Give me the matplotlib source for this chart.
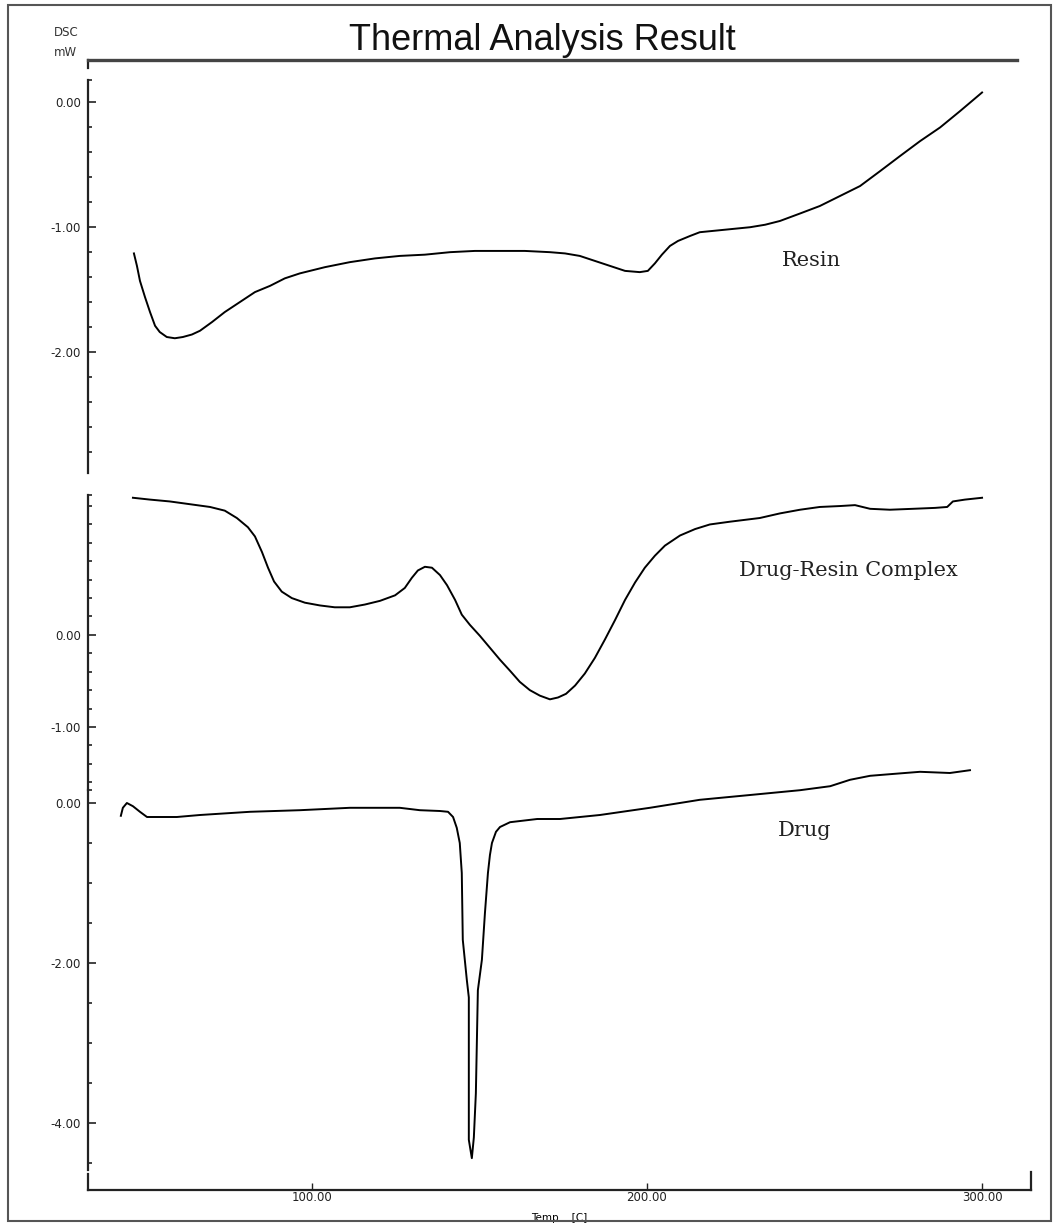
import matplotlib
matplotlib.use("Agg")
import matplotlib.pyplot as plt
import matplotlib.ticker as ticker
import numpy as np
from matplotlib.patches import Rectangle

W, H = 1054, 1223

# --- data (temperature in C, DSC in mW) ---
resin_temp = [47.0, 47.9, 48.8, 50.3, 51.8, 53.3, 54.7, 56.8, 59.2, 61.6,
              64.3, 66.7, 70.3, 74.1, 78.6, 83.1, 87.6, 92.0, 96.5, 104.0,
              111.4, 118.9, 126.3, 133.8, 141.3, 148.7, 156.2, 163.6, 171.1,
              175.6, 180.0, 184.5, 189.0, 193.5, 197.9, 200.3, 202.4, 204.5,
              206.9, 209.3, 212.9, 215.8, 223.3, 230.8, 235.3, 239.7, 245.7,
              251.6, 257.6, 263.6, 269.6, 275.5, 281.5, 287.5, 293.4, 300.0]
resin_dsc = [-1.21, -1.31, -1.43, -1.56, -1.68, -1.79, -1.84, -1.88, -1.89,
             -1.88, -1.86, -1.83, -1.76, -1.68, -1.60, -1.52, -1.47, -1.41,
             -1.37, -1.32, -1.28, -1.25, -1.23, -1.22, -1.20, -1.19, -1.19,
             -1.19, -1.20, -1.21, -1.23, -1.27, -1.31, -1.35, -1.36, -1.35,
             -1.29, -1.22, -1.15, -1.11, -1.07, -1.04, -1.02, -1.00, -0.98,
             -0.95, -0.89, -0.83, -0.75, -0.67, -0.55, -0.43, -0.31, -0.20,
             -0.07, 0.08]

complex_temp = [46.7, 51.8, 57.7, 63.7, 69.7, 74.1, 77.7, 81.0, 83.1, 85.2,
                87.0, 88.8, 91.1, 94.1, 98.0, 102.5, 106.9, 111.4, 115.9,
                120.4, 124.9, 127.8, 129.9, 131.7, 133.8, 135.9, 138.3, 140.4,
                142.8, 144.8, 147.2, 150.2, 153.2, 156.2, 159.2, 162.1, 165.1,
                168.1, 171.1, 173.5, 175.9, 178.6, 181.5, 184.5, 187.5, 190.5,
                193.5, 196.5, 199.4, 202.4, 205.4, 209.9, 214.4, 218.8, 224.8,
                233.7, 239.7, 245.7, 251.6, 257.6, 262.1, 266.6, 272.5, 279.4,
                286.0, 289.6, 291.3, 294.9, 300.0]
complex_dsc = [1.49, 1.47, 1.45, 1.42, 1.39, 1.35, 1.27, 1.17, 1.07, 0.90,
               0.73, 0.58, 0.47, 0.40, 0.35, 0.32, 0.30, 0.30, 0.33, 0.37,
               0.43, 0.51, 0.62, 0.70, 0.74, 0.73, 0.65, 0.54, 0.38, 0.22,
               0.11, -0.01, -0.14, -0.27, -0.39, -0.51, -0.60, -0.66, -0.70,
               -0.68, -0.64, -0.55, -0.42, -0.25, -0.05, 0.16, 0.38, 0.57,
               0.73, 0.86, 0.97, 1.08, 1.15, 1.20, 1.23, 1.27, 1.32, 1.36,
               1.39, 1.40, 1.41, 1.37, 1.36, 1.37, 1.38, 1.39, 1.45, 1.47,
               1.49]

drug_temp = [43.1, 43.7, 44.9, 46.7, 48.8, 50.9, 54.7, 59.8, 66.7, 81.6,
             96.5, 111.4, 126.3, 132.3, 138.3, 140.7, 142.2, 143.3, 144.2,
             144.8, 145.1, 146.3, 146.9, 146.9, 147.8, 148.4, 149.0, 149.6,
             150.8, 151.7, 152.6, 153.2, 153.8, 155.0, 156.2, 159.2, 167.3,
             174.1, 186.0, 200.9, 215.8, 230.8, 245.7, 254.7, 260.6, 266.6,
             272.5, 281.5, 290.4, 296.4]
drug_dsc = [-0.16, -0.06, 0.0, -0.04, -0.11, -0.175, -0.175, -0.175, -0.15,
            -0.11, -0.09, -0.06, -0.06, -0.09, -0.10, -0.11, -0.175, -0.31,
            -0.50, -0.875, -1.71, -2.21, -2.43, -4.21, -4.44, -4.18, -3.63,
            -2.34, -1.96, -1.38, -0.875, -0.65, -0.50, -0.36, -0.30, -0.24,
            -0.20, -0.20, -0.15, -0.06, 0.04, 0.10, 0.16, 0.21, 0.29, 0.34,
            0.36, 0.39, 0.375, 0.41]

x_ticks = [100, 200, 300]
x_range = (33.3, 314.6)

# panel: (label, temps, values, y range, major ticks, minor step, pixel top/bottom, label pos)
panels = [
    ("Resin", resin_temp, resin_dsc, (-2.97, 0.18), [0, -1, -2], 0.2, 80, 473, (811, 261)),
    ("Drug-Resin Complex", complex_temp, complex_dsc, (-1.685, 1.52), [0, -1], 0.2, 495, 790, (848, 570)),
    ("Drug", drug_temp, drug_dsc, (-4.5875, 0.1625), [0, -2, -4], 0.5, 790, 1170, (805, 830)),
]

LEFT, RIGHT, TOP, BOTTOM = 88, 1031, 60, 1190


def box(left, top, right, bottom):
    return [left / W, 1 - bottom / H, (right - left) / W, (bottom - top) / H]


def fpos(x, y):
    return x / W, 1 - y / H


fig = plt.figure(figsize=(W / 100, H / 100), dpi=100)
fig.patches.append(Rectangle((8 / W, 1 - 1221 / H), 1043 / W, 1216 / H,
                             transform=fig.transFigure, fill=False,
                             edgecolor="#555555", linewidth=1.5))

# frame: top rule and temperature axis
frame = fig.add_axes(box(LEFT, TOP, RIGHT, BOTTOM))
frame.set_xlim(*x_range)
frame.set_ylim(0, 1)
frame.set_yticks([])
for side in ("left", "right"):
    frame.spines[side].set_visible(False)
frame.spines["top"].set_bounds(x_range[0], 310.4)
frame.spines["top"].set_color("#444444")
frame.spines["top"].set_linewidth(2.4)
frame.spines["bottom"].set_color("#222222")
frame.spines["bottom"].set_linewidth(1.6)
frame.set_xticks(x_ticks)
frame.set_xticklabels([f"{t:.2f}" for t in x_ticks])
frame.tick_params(axis="x", direction="in", length=5, width=1, pad=1,
                  labelsize=8.5, colors="#222222")
# small corner marks of the instrument frame
frame.plot([0, 0], [1, 0.993], transform=frame.transAxes, color="#222222", lw=1.6, clip_on=False)
frame.plot([0, 0], [0, 0.014], transform=frame.transAxes, color="#222222", lw=1.6, clip_on=False)
frame.plot([1, 1], [0, 0.016], transform=frame.transAxes, color="#222222", lw=1.6, clip_on=False)
frame.set_xlabel("Temp    [C]", fontsize=7.5, labelpad=6)

for name, temps, vals, ylim, majors, step, ptop, pbot, lpos in panels:
    ax = fig.add_axes(box(LEFT, ptop, RIGHT, pbot))
    ax.patch.set_visible(False)
    ax.set_xlim(*x_range)
    ax.set_ylim(*ylim)
    ax.set_xticks([])
    for side in ("top", "right", "bottom"):
        ax.spines[side].set_visible(False)
    ax.spines["left"].set_color("#222222")
    ax.spines["left"].set_linewidth(1.6)
    ax.yaxis.set_major_locator(ticker.FixedLocator(majors))
    ax.yaxis.set_major_formatter(ticker.FormatStrFormatter("%.2f"))
    minors = list(np.arange(0, ylim[1], step)) + list(np.arange(0, ylim[0], -step))
    minors = [m for m in minors if all(abs(m - M) > 1e-6 for M in majors)]
    minors.append(ylim[1])
    ax.yaxis.set_minor_locator(ticker.FixedLocator(minors))
    ax.tick_params(axis="y", which="major", direction="in", length=6, width=1.2,
                   pad=5, labelsize=8.5, colors="#222222")
    ax.tick_params(axis="y", which="minor", direction="in", length=3, width=1.2,
                   colors="#222222")
    ax.plot(temps, vals, color="black", lw=1.4, clip_on=False)
    fig.text(*fpos(*lpos), name, ha="center", va="center",
             family="DejaVu Serif", fontsize=15, color="#222222")

fig.text(*fpos(542, 40), "Thermal Analysis Result", ha="center", va="center",
         family="Liberation Sans", fontsize=26, color="#111111")
fig.text(*fpos(54, 32), "DSC", ha="left", va="center", fontsize=8.5, color="#333333")
fig.text(*fpos(54, 52), "mW", ha="left", va="center", fontsize=8.5, color="#333333")

fig.savefig("out.png", dpi=100)
